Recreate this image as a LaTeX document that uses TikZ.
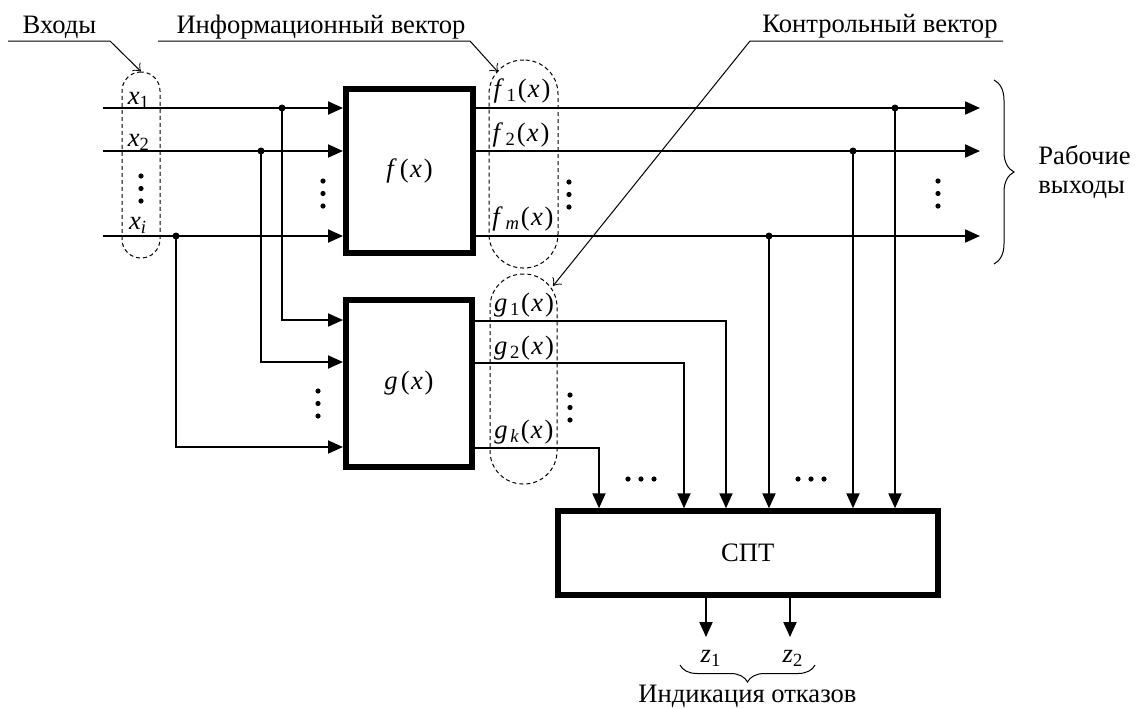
\documentclass[tikz,border=0pt]{standalone}
\usepackage{fontspec}
\setmainfont{Liberation Serif}
\usetikzlibrary{arrows.meta,decorations.pathreplacing}
\newcommand\vx{\kern0.05em\textit{x}\kern0.07em}
\newcommand\fnl[2]{\textit{#1}\kern0.1em\textsubscript{#2}\kern0.03em(\vx)}
\newcommand\fbx[1]{\textit{#1}\kern0.12em(\vx)}
\begin{document}
\begin{tikzpicture}[x=0.5pt,y=-0.5pt,
  every node/.style={font=\fontsize{13.3}{16}\selectfont},
  arr/.style={line width=1pt,-{Triangle[length=7.5pt,width=6.5pt]}},
  leader/.style={line width=0.5pt,-{Classical TikZ Rightarrow[length=3.5pt,width=6pt]}},
  blk/.style={draw,line width=3pt,inner sep=0pt,fill=white},
  stad/.style={draw,dashed,dash pattern=on 2pt off 1.5pt,line width=0.5pt,inner sep=0pt},
  lbl/.style={inner sep=0pt,anchor=base},
  jdot/.style={circle,fill,inner sep=0pt,minimum size=3.5pt},
  vdot/.style={circle,fill,inner sep=0pt,minimum size=2.6pt},
  brc/.style={decorate,line width=0.5pt}
]
\useasboundingbox (0,0) rectangle (1137,708);

% blocks
\node[blk,minimum width=63.5pt,minimum height=82pt] (f) at (409.5,171) {\fbx{f}};
\node[blk,minimum width=63pt,minimum height=83.5pt] (g) at (409,383.5) {\fbx{g}};
\node[blk,minimum width=190pt,minimum height=42pt] (spt) at (747.75,553.25) {СПТ};

% dashed groups
\node[stad,minimum width=19pt,minimum height=93pt,rounded corners=9.4pt] (xs) at (141,165) {};
\node[stad,minimum width=34.5pt,minimum height=104pt,rounded corners=17pt] (fs) at (523.5,164) {};
\node[stad,minimum width=33.5pt,minimum height=105pt,rounded corners=16.5pt] (gs) at (523.5,379) {};

% top labels with leaders
\node[lbl] (tin) at (59.5,33) {Входы};
\node[lbl] (tinf) at (321,33) {Информационный вектор};
\node[lbl] (tctl) at (880,32) {Контрольный вектор};
\coordinate (u1a) at (8,41);   \coordinate (u1b) at (110,41);
\coordinate (u2a) at (158,41); \coordinate (u2b) at (470,41);
\coordinate (u3a) at (1003,41); \coordinate (u3b) at (750,41);
\coordinate (pf) at (498,72);
\coordinate (pg) at (553,286);
\draw[leader] (u1a) -- (u1b) -- (xs.north);
\draw[leader] (u2a) -- (u2b) -- (pf);
\draw[leader] (u3a) -- (u3b) -- (pg);

% inputs
\coordinate (in1) at (103,108);
\coordinate (in2) at (103,151);
\coordinate (ini) at (103,236);
\coordinate (j1) at (282,108);
\coordinate (j2) at (261,151);
\coordinate (ji) at (176,236);
\draw[arr] (in1) -- (in1 -| f.west);
\draw[arr] (in2) -- (in2 -| f.west);
\draw[arr] (ini) -- (ini -| f.west);
\draw[arr] (j1) |- (g.west |- 0,320);
\draw[arr] (j2) |- (g.west |- 0,362);
\draw[arr] (ji) |- (g.west |- 0,447);
\node[jdot] (dj1) at (j1) {};
\node[jdot] (dj2) at (j2) {};
\node[jdot] (dji) at (ji) {};

\node[lbl] (lx1) at (139,104) {\textit{x}\textsubscript{1}};
\node[lbl] (lx2) at (139,146) {\textit{x}\textsubscript{2}};
\node[lbl] (lxi) at (138,229) {\textit{x}\textsubscript{\textit{i}}};

% f outputs
\coordinate (o1) at (980,108);
\coordinate (o2) at (980,151);
\coordinate (om) at (980,236);
\coordinate (k1) at (895,108);
\coordinate (k2) at (853,151);
\coordinate (km) at (769,236);
\draw[arr] (f.east |- o1) -- (o1);
\draw[arr] (f.east |- o2) -- (o2);
\draw[arr] (f.east |- om) -- (om);
\draw[arr] (k1) -- (k1 |- spt.north);
\draw[arr] (k2) -- (k2 |- spt.north);
\draw[arr] (km) -- (km |- spt.north);
\node[jdot] (dk1) at (k1) {};
\node[jdot] (dk2) at (k2) {};
\node[jdot] (dkm) at (km) {};

\node[lbl] (lf1) at (522,97) {\fnl{f}{1}};
\node[lbl] (lf2) at (521,141) {\fnl{f}{2}};
\node[lbl] (lfm) at (523,225) {\fnl{f}{\textit{m}}};

% g outputs
\draw[arr] (g.east |- 0,321) -| (spt.north -| 726,0);
\draw[arr] (g.east |- 0,363) -| (spt.north -| 684,0);
\draw[arr] (g.east |- 0,448) -| (spt.north -| 599,0);

\node[lbl] (lg1) at (524,311) {\fnl{g}{1}};
\node[lbl] (lg2) at (524,354) {\fnl{g}{2}};
\node[lbl] (lgk) at (524,438) {\fnl{g}{\textit{k}}};

% z outputs
\coordinate (z1) at (706,637);
\coordinate (z2) at (790,637);
\draw[arr] (spt.south -| z1) -- (z1);
\draw[arr] (spt.south -| z2) -- (z2);
\node[lbl] (lz1) at (711,662) {\textit{z}\textsubscript{1}};
\node[lbl] (lz2) at (793,662) {\textit{z}\textsubscript{2}};
\coordinate (bz1) at (815,665);
\coordinate (bz2) at (680,665);
\draw[brc,decoration={brace,amplitude=8.5pt}] (bz1) -- (bz2);
\node[lbl] (lind) at (747.5,702) {Индикация отказов};

% right brace
\coordinate (br1) at (994,80);
\coordinate (br2) at (994,264);
\draw[brc,decoration={brace,amplitude=10pt}] (br1) -- (br2);
\node[lbl,anchor=base west] (lwork1) at (1038,164) {Рабочие};
\node[lbl,anchor=base west] (lwork2) at (1038,193) {выходы};

% vertical dots
\foreach \n/\xx/\yy in {a/141/176,b/323/181,c/569/182,d/938/181,e/318/391,f/570/395}{
  \node[vdot] (vd\n1) at (\xx,\yy) {};
  \node[vdot] (vd\n2) at (\xx,\yy+12.5) {};
  \node[vdot] (vd\n3) at (\xx,\yy+25) {};
}
% horizontal dots
\foreach \n/\xx in {a/628,b/798}{
  \node[vdot] (hd\n1) at (\xx,479) {};
  \node[vdot] (hd\n2) at (\xx+13,479) {};
  \node[vdot] (hd\n3) at (\xx+26,479) {};
}
\end{tikzpicture}
\end{document}
